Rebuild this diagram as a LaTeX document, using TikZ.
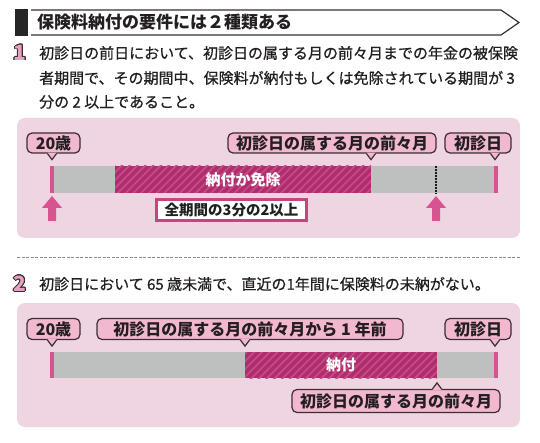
\documentclass[tikz,border=0pt]{standalone}
\usepackage{fontspec}
\setmainfont{Noto Sans CJK JP}
\newfontfamily\medfont{Noto Sans CJK JP}[FakeBold=0.7]
\usepackage{contour}
\usetikzlibrary{calc,patterns.meta}
\definecolor{boxpink}{RGB}{239,212,225}
\definecolor{callfill}{RGB}{242,184,208}
\definecolor{calldraw}{RGB}{60,45,52}
\definecolor{hatchbase}{RGB}{176,44,108}
\definecolor{hatchline}{RGB}{196,76,134}
\definecolor{barpink}{RGB}{214,84,143}
\definecolor{numpink}{RGB}{232,160,194}
\definecolor{bargray}{RGB}{190,192,191}
\definecolor{labelborder}{RGB}{200,68,127}
\definecolor{txt}{RGB}{35,30,32}
\contourlength{0.7pt}
\newcommand{\ptrdown}[2]{%
  \fill[callfill] ($(#1.south -| #2)+(-4.5,-0.9)$) -- ($(#1.south -| #2)+(0,6)$) -- ($(#1.south -| #2)+(4.5,-0.9)$) -- cycle;
  \draw[calldraw, line width=1.2pt, line join=miter] ($(#1.south -| #2)+(-4.5,0)$) -- ($(#1.south -| #2)+(0,6)$) -- ($(#1.south -| #2)+(4.5,0)$);}
\newcommand{\ptrup}[2]{%
  \fill[callfill] ($(#1.north -| #2)+(-4.5,0.9)$) -- ($(#1.north -| #2)+(0,-6)$) -- ($(#1.north -| #2)+(4.5,0.9)$) -- cycle;
  \draw[calldraw, line width=1.2pt, line join=miter] ($(#1.north -| #2)+(-4.5,0)$) -- ($(#1.north -| #2)+(0,-6)$) -- ($(#1.north -| #2)+(4.5,0)$);}
\begin{document}
\begin{tikzpicture}[x=1pt,y=-1pt,
  body/.style={anchor=west, inner sep=0pt, text=txt, font=\medfont\fontsize{15}{15}\selectfont},
  callout/.style={draw=calldraw, fill=callfill, line width=1.2pt, rounded corners=5pt, inner sep=0pt, text=txt, font=\bfseries\fontsize{16}{16}\selectfont},
  bartext/.style={text=white, inner sep=0pt, font=\bfseries\fontsize{15}{15}\selectfont},
  hatch/.style={pattern={Lines[angle=45,distance=5.5pt,line width=1.8pt]}, pattern color=hatchline},
  uparrow/.style={fill=barpink},
  numstyle/.style={inner sep=0pt, font=\bfseries\fontsize{21}{21}\selectfont}
]
\fill[white] (0,0) rectangle (540,443);
\useasboundingbox (0,0) rectangle (540,443);

% header
\fill[black!85] (15,9) rectangle (28,36);
\draw[line width=1.2pt, calldraw] (31,10) -- (501,10) -- (519,22.5) -- (501,35) -- (31,35);
\node[anchor=west, inner sep=0pt, text=txt, font=\bfseries\fontsize{17}{17}\selectfont] (title) at (37,22.5) {保険料納付の要件には２種類ある};

% section 1 text
\node[numstyle] (num1) at (20,53) {\contour{calldraw}{\textcolor{numpink}{1}}};
\node[body] (l1) at (39,53) {初診日の前日において、初診日の属する月の前々月までの年金の被保険};
\node[body] (l2) at (39,78) {者期間で、その期間中、保険料が納付もしくは免除されている期間が 3};
\node[body] (l3) at (39,102) {分の 2 以上であること。};

% box 1
\fill[boxpink, rounded corners=8pt] (17,118) rectangle (520,238);
\fill[bargray] (54,166) rectangle (115,193);
\fill[hatchbase] (115,166) rectangle (371,193);
\fill[hatch] (115,166) rectangle (371,193);
\fill[bargray] (371,166) rectangle (494,193);
\fill[barpink] (50,166) rectangle (54,193);
\fill[barpink] (494,166) rectangle (497.5,193);
\node[bartext] (b1) at (243,180) {納付か免除};
\draw[black!90, line width=2.5pt, dash pattern=on 1.8pt off 1.2pt] (436,166) -- (436,194);
\fill[uparrow] (52,196) -- (62,208) -- (56,208) -- (56,221) -- (48,221) -- (48,208) -- (42,208) -- cycle;
\fill[uparrow] (436,196) -- (446,208) -- (440,208) -- (440,221) -- (432,221) -- (432,208) -- (426,208) -- cycle;
\node[draw=labelborder, line width=3pt, fill=white, minimum width=150pt, minimum height=21pt, inner sep=0pt, text=txt, font=\bfseries\fontsize{14.5}{14.5}\selectfont] (lab) at (231.5,210) {全期間の3分の2以上};

\coordinate (pa) at (52,0);
\coordinate (pb) at (371,0);
\coordinate (pc) at (495,0);
\node[callout, minimum width=53pt, minimum height=20pt] (c20a) at (53.5,143) {20歳};
\node[callout, minimum width=208pt, minimum height=20pt] (czz1) at (332,143) {初診日の属する月の前々月};
\node[callout, minimum width=66pt, minimum height=20pt] (cfa) at (478,143) {初診日};
\ptrdown{c20a}{pa}
\ptrdown{czz1}{pb}
\ptrdown{cfa}{pc}

% separator
\draw[black!45, line width=0.6pt, dash pattern=on 3pt off 1.5pt] (17,257) -- (520,257);

% section 2 text
\node[numstyle] (num2) at (20,284) {\contour{calldraw}{\textcolor{numpink}{2}}};
\node[body] (l4) at (39,284) {初診日において 65 歳未満で、直近の1年間に保険料の未納がない。};

% box 2
\fill[boxpink, rounded corners=8pt] (17,303) rectangle (520,427);
\fill[bargray] (54,352) rectangle (245,378);
\fill[hatchbase] (245,352) rectangle (437,378);
\fill[hatch] (245,352) rectangle (437,378);
\fill[bargray] (437,352) rectangle (494,378);
\fill[barpink] (50,352) rectangle (54,378);
\fill[barpink] (494,352) rectangle (497.5,378);
\node[bartext] (b2) at (341,365) {納付};

\coordinate (pd) at (245,0);
\coordinate (pe) at (437,0);
\node[callout, minimum width=53pt, minimum height=21pt] (c20b) at (53.5,329) {20歳};
\node[callout, minimum width=306pt, minimum height=21pt] (cyear) at (250,329) {初診日の属する月の前々月から 1 年前};
\node[callout, minimum width=66pt, minimum height=21pt] (cfb) at (478,329) {初診日};
\node[callout, minimum width=208pt, minimum height=23pt] (cbot) at (396,401) {初診日の属する月の前々月};
\ptrdown{c20b}{pa}
\ptrdown{cyear}{pd}
\ptrdown{cfb}{pc}
\ptrup{cbot}{pe}
\end{tikzpicture}
\end{document}
